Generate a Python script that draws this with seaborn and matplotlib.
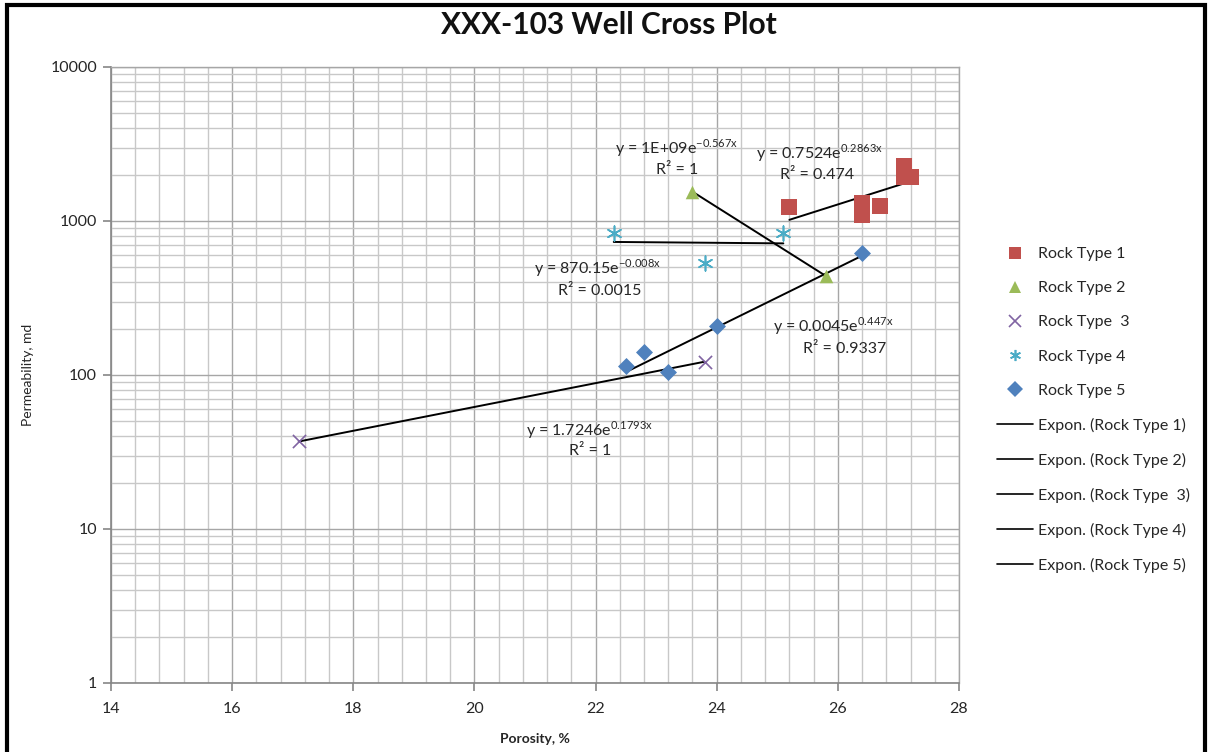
import numpy as np
import pandas as pd
import seaborn as sns
import matplotlib
matplotlib.use("Agg")
import matplotlib.pyplot as plt
from matplotlib.lines import Line2D
from matplotlib.ticker import MultipleLocator, LogLocator, NullFormatter, FixedLocator, FixedFormatter

# ---------------- data ----------------
rt1_x = [25.2, 26.4, 26.4, 26.7, 27.1, 27.1, 27.2]
rt1_y = [1230, 1300, 1090, 1250, 2290, 1920, 1920]
rt2_x = [23.6, 25.8]
rt2_y = [1550, 440]
rt3_x = [17.1, 23.8]
rt3_y = [37, 122]
rt4_x = [22.3, 23.8, 25.1]
rt4_y = [840, 536, 840]
rt5_x = [22.5, 22.8, 23.2, 24.0, 26.4]
rt5_y = [114, 142, 104, 208, 617]

series_names = ["Rock Type 1", "Rock Type 2", "Rock Type  3", "Rock Type 4", "Rock Type 5"]
trend_names = ["Expon. (Rock Type 1)", "Expon. (Rock Type 2)", "Expon. (Rock Type  3)",
               "Expon. (Rock Type 4)", "Expon. (Rock Type 5)"]
equations = [r"y = 0.7524e$^{\mathregular{0.2863x}}$",
             r"y = 1E+09e$^{\mathregular{-0.567x}}$",
             r"y = 1.7246e$^{\mathregular{0.1793x}}$",
             r"y = 870.15e$^{\mathregular{-0.008x}}$",
             r"y = 0.0045e$^{\mathregular{0.447x}}$"]
r2_labels = ["R² = 0.474", "R² = 1", "R² = 1", "R² = 0.0015", "R² = 0.9337"]

title = "XXX-103 Well Cross Plot"
x_label = "Porosity, %"
y_label = "Permeability, md"
x_ticks = [14, 16, 18, 20, 22, 24, 26, 28]
y_ticks = [1, 10, 100, 1000, 10000]
y_tick_labels = ["1", "10", "100", "1000", "10000"]

# ---------------- styling ----------------
sns.set_style("white")
plt.rcParams["font.family"] = ["Lato", "DejaVu Sans"]

colors = ["#C0504D", "#9BBB59", "#8064A2", "#4BACC6", "#4F81BD"]
markers = ["s", "^", "x", (6, 2, 0), "D"]
sizes = [120, 95, 90, 110, 75]

W, H = 1210, 752
fig = plt.figure(figsize=(W / 100, H / 100), dpi=100)
ax = fig.add_axes([111 / W, 1 - 683 / H, (959 - 111) / W, (683 - 67) / H])

xs = [rt1_x, rt2_x, rt3_x, rt4_x, rt5_x]
ys = [rt1_y, rt2_y, rt3_y, rt4_y, rt5_y]

df = pd.concat([pd.DataFrame({"Porosity": x, "Permeability": y, "Series": n})
                for x, y, n in zip(xs, ys, series_names)], ignore_index=True)

# trendlines (exponential fits)
for x, y in zip(xs, ys):
    b, a = np.polyfit(np.array(x), np.log(np.array(y)), 1)
    xx = np.linspace(min(x), max(x), 50)
    tdf = pd.DataFrame({"x": xx, "y": np.exp(a + b * xx)})
    sns.lineplot(data=tdf, x="x", y="y", ax=ax, color="black", lw=1.4, zorder=3, legend=False)

for n, c, m, s in zip(series_names, colors, markers, sizes):
    sub = df[df["Series"] == n]
    lw = 1.2 if m in ("x",) or isinstance(m, tuple) else 0
    sns.scatterplot(data=sub, x="Porosity", y="Permeability", ax=ax, color=c, marker=m,
                    s=s, linewidth=lw, edgecolor=c if lw == 0 else None, zorder=4, legend=False)

ax.set_yscale("log")
ax.set_xlim(14, 28)
ax.set_ylim(1, 10000)
ax.xaxis.set_major_locator(FixedLocator(x_ticks))
ax.xaxis.set_minor_locator(MultipleLocator(0.4))
ax.yaxis.set_major_locator(FixedLocator(y_ticks))
ax.yaxis.set_major_formatter(FixedFormatter(y_tick_labels))
ax.yaxis.set_minor_locator(LogLocator(base=10, subs=np.arange(2, 10)))
ax.yaxis.set_minor_formatter(NullFormatter())

ax.grid(which="major", color="#a6a6a6", lw=1.0)
ax.grid(which="minor", color="#c8c8c8", lw=1.0)
ax.set_axisbelow(True)
for sp in ["left", "bottom"]:
    ax.spines[sp].set_color("#868686")
    ax.spines[sp].set_linewidth(1.2)
for sp in ["top", "right"]:
    ax.spines[sp].set_color("#a6a6a6")
    ax.spines[sp].set_linewidth(1.0)
ax.tick_params(which="major", direction="out", length=6, width=1.2, color="#868686",
               labelsize=11.5, labelcolor="#262626", bottom=True, left=True, pad=4)
ax.tick_params(which="minor", length=0)
ax.tick_params(axis="x", pad=8)

ax.set_xlabel(x_label, fontsize=10, fontweight="bold", color="#262626", labelpad=12)
ax.set_ylabel(y_label, fontsize=10, color="#262626", labelpad=12)
fig.text(609 / W, 1 - 25 / H, title, ha="center", va="center", fontsize=21.5,
         fontweight="bold", color="#111111")

# equation labels
eq_pos = [(820, 153), (677, 148), (590, 430), (598, 268), (833, 326)]
r2_pos = [(817, 175), (677, 170), (590, 451), (600, 291), (845, 349)]
for e, r, (ex, ey), (rx, ry) in zip(equations, r2_labels, eq_pos, r2_pos):
    fig.text(ex / W, 1 - ey / H, e, ha="center", va="center", fontsize=11.5, color="#262626")
    fig.text(rx / W, 1 - ry / H, r, ha="center", va="center", fontsize=11.5, color="#262626")

# legend
handles = []
for n, c, m in zip(series_names, colors, markers):
    handles.append(Line2D([], [], ls="none", marker=m, color=c, markersize=8,
                          markeredgewidth=1.2 if (m == "x" or isinstance(m, tuple)) else 0))
for t in trend_names:
    handles.append(Line2D([], [], color="black", lw=1.2))
labels = series_names + trend_names
fig.legend(handles, labels, loc="upper left", bbox_to_anchor=(997 / W, 1 - 247 / H),
           frameon=False, fontsize=11.5, labelspacing=1.25, handlelength=2.25,
           handletextpad=0.3, borderaxespad=0, borderpad=0)

# outer frame
frame = plt.Rectangle((7 / W, -0.02), (1205 - 7) / W, 1.02 - 5 / H, transform=fig.transFigure,
                      fill=False, edgecolor="black", lw=3, clip_on=False)
fig.add_artist(frame)

fig.savefig("out.png", dpi=100)
